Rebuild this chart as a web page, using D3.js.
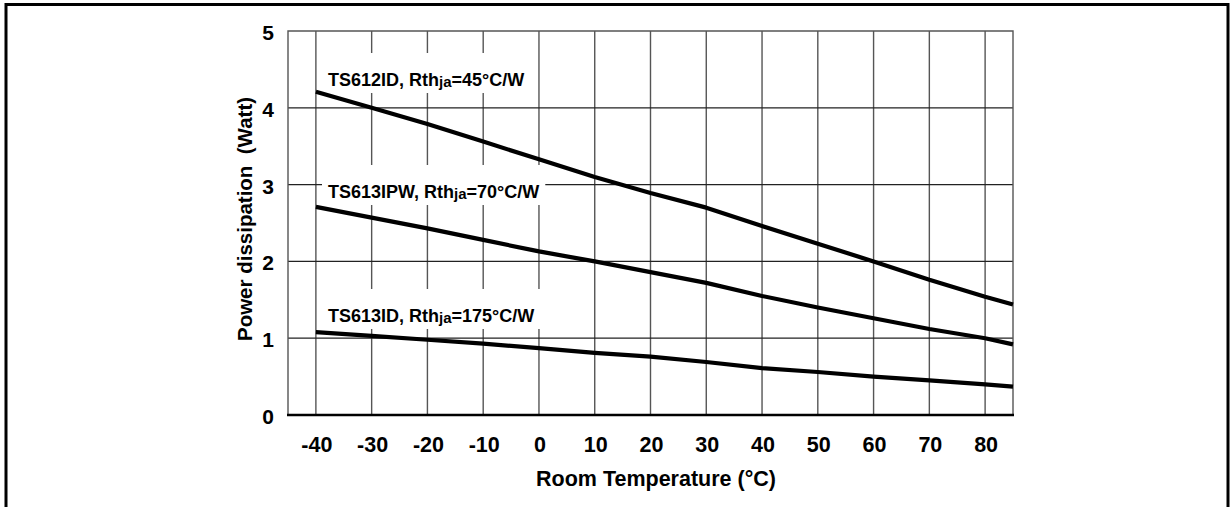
<!DOCTYPE html>
<html>
<head>
<meta charset="utf-8">
<script src="https://cdn.jsdelivr.net/npm/d3@7"></script>
<style>
  html, body { margin: 0; padding: 0; background: #fff; }
  svg { display: block; }
  text { font-family: "Liberation Sans", Arial, sans-serif; font-weight: bold; fill: #000; }
</style>
</head>
<body>
<div id="chart"></div>
<script>
// Power dissipation vs room temperature
const temps = [-40, -30, -20, -10, 0, 10, 20, 30, 40, 50, 60, 70, 80, 85];
const ts612id = [4.21, 4.00, 3.79, 3.56, 3.33, 3.10, 2.89, 2.70, 2.46, 2.23, 2.00, 1.76, 1.54, 1.44];
const ts613ipw = [2.71, 2.57, 2.43, 2.28, 2.13, 2.00, 1.86, 1.72, 1.55, 1.40, 1.26, 1.12, 1.00, 0.92];
const ts613id = [1.08, 1.03, 0.98, 0.93, 0.87, 0.81, 0.76, 0.69, 0.61, 0.56, 0.50, 0.45, 0.40, 0.37];

const xTicks = [-40, -30, -20, -10, 0, 10, 20, 30, 40, 50, 60, 70, 80];
const yTicks = [0, 1, 2, 3, 4, 5];

const seriesNames = ['TS612ID, Rth', 'TS613IPW, Rth', 'TS613ID, Rth'];
const seriesSubs = ['ja', 'ja', 'ja'];
const seriesTails = ['=45°C/W', '=70°C/W', '=175°C/W'];
const seriesValues = [ts612id, ts613ipw, ts613id];

const W = 1232, H = 507;
const plot = { left: 288, right: 1013, top: 31, bottom: 415 };
const labelBase = [86, 198, 322];  // label baselines, px

const svg = d3.select('#chart').append('svg')
    .attr('width', W)
    .attr('height', H);

const x = d3.scaleLinear().domain([-45, 85]).range([plot.left, plot.right]);
const y = d3.scaleLinear().domain([0, 5]).range([plot.bottom, plot.top]);

// outer frame
svg.append('rect')
    .attr('x', 6).attr('y', 4.5)
    .attr('width', 1222).attr('height', 530)
    .style('fill', 'none')
    .style('stroke', '#000')
    .style('stroke-width', 3);

// grid
const grid = svg.append('g');
grid.selectAll('.vgrid')
    .data(xTicks)
    .enter().append('line')
    .attr('class', 'vgrid')
    .attr('x1', d => x(d)).attr('x2', d => x(d))
    .attr('y1', plot.top).attr('y2', plot.bottom)
    .style('stroke', '#555')
    .style('stroke-width', 1.4);

grid.selectAll('.hgrid')
    .data(yTicks.filter(d => d > 0 && d < 5))
    .enter().append('line')
    .attr('class', 'hgrid')
    .attr('x1', plot.left).attr('x2', plot.right)
    .attr('y1', d => y(d)).attr('y2', d => y(d))
    .style('stroke', '#222')
    .style('stroke-width', 1.2);

// plot border
svg.append('path')
    .attr('d', `M${plot.left},${plot.bottom}V${plot.top}H${plot.right}V${plot.bottom}`)
    .style('fill', 'none')
    .style('stroke', '#555')
    .style('stroke-width', 1.4);

// x axis baseline
svg.append('line')
    .attr('x1', plot.left - 1).attr('x2', plot.right + 1)
    .attr('y1', plot.bottom).attr('y2', plot.bottom)
    .style('stroke', '#000')
    .style('stroke-width', 2.5);

// series labels with white boxes
seriesNames.forEach((name, i) => {
    const baseY = labelBase[i];
    const g = svg.append('g');
    const box = g.append('rect').style('fill', '#fff');
    const t = g.append('text')
        .attr('x', 328)
        .attr('y', baseY)
        .style('font-size', '18px');
    t.append('tspan').text(name);
    t.append('tspan').style('font-size', '15px').attr('dy', 1).text(seriesSubs[i]);
    t.append('tspan').attr('dy', -1).text(seriesTails[i]);
    const bb = t.node().getBBox();
    box.attr('x', bb.x - 6)
        .attr('y', baseY - 33)
        .attr('width', bb.width + 12)
        .attr('height', 40);
});

// series lines
const line = d3.line()
    .x((d, j) => x(temps[j]))
    .y(d => y(d));

svg.selectAll('.series')
    .data(seriesValues)
    .enter().append('path')
    .attr('class', 'series')
    .attr('d', line)
    .style('fill', 'none')
    .style('stroke', '#000')
    .style('stroke-width', 4.2)
    .style('stroke-linejoin', 'round');

// tick labels
svg.selectAll('.ylab')
    .data(yTicks)
    .enter().append('text')
    .attr('class', 'ylab')
    .attr('x', 274)
    .attr('y', d => y(d) + 9)
    .attr('text-anchor', 'end')
    .style('font-size', '21px')
    .text(d => d);

svg.selectAll('.xlab')
    .data(xTicks)
    .enter().append('text')
    .attr('class', 'xlab')
    .attr('x', d => x(d) + 1)
    .attr('y', 452)
    .attr('text-anchor', 'middle')
    .style('font-size', '21.5px')
    .text(d => d);

// axis titles
svg.append('text')
    .attr('x', 656)
    .attr('y', 486)
    .attr('text-anchor', 'middle')
    .style('font-size', '21.5px')
    .text('Room Temperature (°C)');

svg.append('text')
    .attr('transform', 'translate(252,219) rotate(-90)')
    .attr('text-anchor', 'middle')
    .style('font-size', '20.5px')
    .style('white-space', 'pre')
    .text('Power dissipation  (Watt)');
</script>
</body>
</html>
